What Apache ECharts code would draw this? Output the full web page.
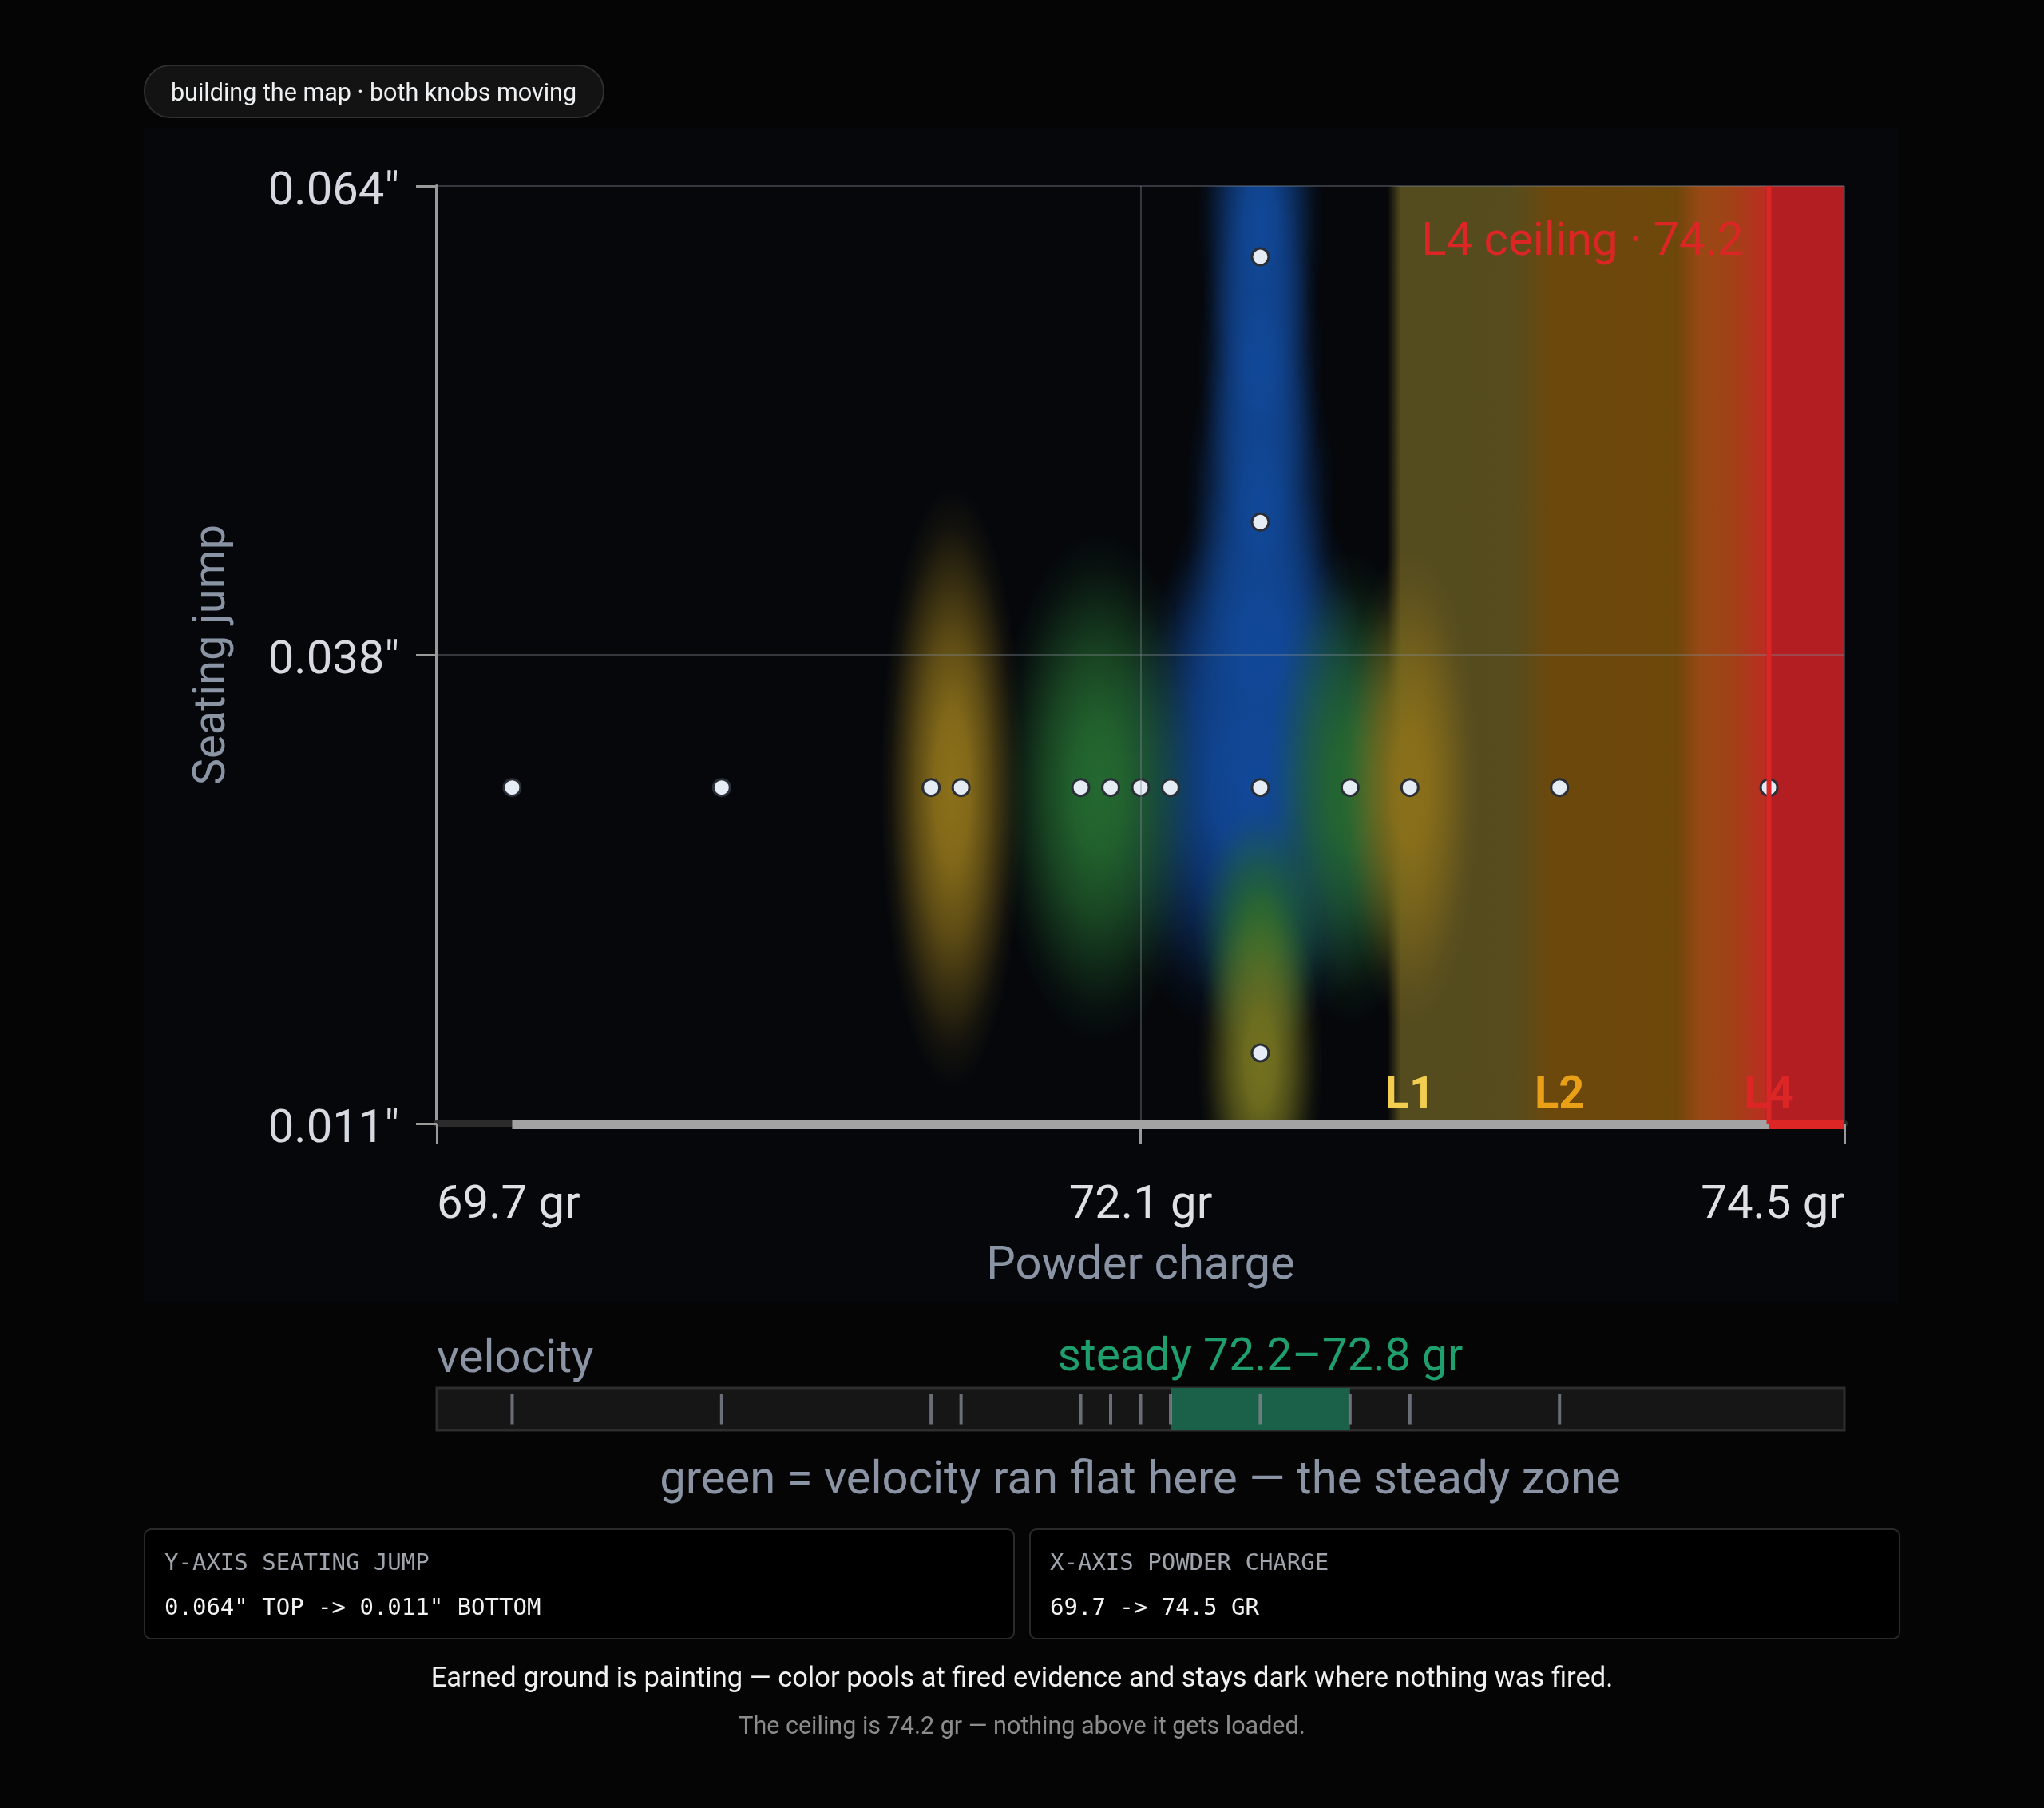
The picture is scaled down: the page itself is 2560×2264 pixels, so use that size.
<!DOCTYPE html>
<html><head><meta charset="utf-8">
<script src="https://cdn.jsdelivr.net/npm/echarts@6/dist/echarts.min.js"></script>
<style>html,body{margin:0;padding:0;background:#050505;}#c{width:2560px;height:2264px;}</style>
</head><body><div id="c"></div>
<script>
// ---------------- data ----------------
const shotCharge = [70.0, 70.7, 71.4, 71.5, 71.9, 72.0, 72.1, 72.2, 72.5, 72.8, 73.0, 73.5, 74.2, 72.5, 72.5, 72.5];
const shotJump   = [0.030, 0.030, 0.030, 0.030, 0.030, 0.030, 0.030, 0.030, 0.030, 0.030, 0.030, 0.030, 0.030, 0.060, 0.045, 0.015];
const velocityCharge = [70.0, 70.7, 71.4, 71.5, 71.9, 72.0, 72.1, 72.2, 72.5, 72.8, 73.0, 73.5];
const steadyRange = [72.2, 72.8];
const ceilingCharge = 74.2;
const levelNames  = ['L1', 'L2', 'L4'];
const levelCharge = [73.0, 73.5, 74.2];
const chargeRange = [69.748, 74.452];
const chargeTicks = [69.748, 72.1, 74.452];
const chargeTickLabels = ['69.7 gr', '72.1 gr', '74.5 gr'];
const jumpRange = [0.011, 0.064];
const jumpTicks = [0.011, 0.0375, 0.064];
const jumpTickLabels = ['0.011"', '0.038"', '0.064"'];
// colour pools where fired evidence sits (centre + reach in data units, tier)
const poolCharge = [72.47, 72.5, 72.5, 72.5, 72.5, 71.96, 72.8, 72.5, 71.47, 73.0, 72.5];
const poolJump   = [0.030, 0.062, 0.054, 0.046, 0.038, 0.030, 0.030, 0.0215, 0.030, 0.030, 0.0145];
const poolReachCharge = [0.52, 0.21, 0.21, 0.25, 0.34, 0.35, 0.28, 0.22, 0.24, 0.23, 0.21];
const poolReachJump   = [0.0145, 0.011, 0.01, 0.011, 0.01, 0.0145, 0.0135, 0.0075, 0.017, 0.0135, 0.01];
const poolTier = ['steady', 'steady', 'steady', 'steady', 'steady', 'mid', 'mid', 'mid', 'warm', 'warm', 'olive'];

// ---------------- styles ----------------
const FONT = 'Roboto, "Noto Sans", sans-serif';
const MONO = '"DejaVu Sans Mono", "Liberation Mono", monospace';
const tierRGB = { steady: [17, 72, 152], mid: [36, 104, 48], warm: [140, 112, 26], olive: [116, 114, 32] };
const levelColors = ['#f2cd50', '#e9a016', '#dc2626'];
const bandStyle = [ // [anchor level index, offset in gr, colour]
  [0, -0.075, 'rgba(84,75,30,0)'],
  [0, -0.03, 'rgb(84,75,30)'],
  [1, -0.16, 'rgb(86,76,30)'],
  [1, -0.03, 'rgb(108,72,12)'],
  [2, -0.31, 'rgb(110,71,11)'],
  [2, -0.23, 'rgb(152,72,20)'],
  [2, -0.13, 'rgb(160,66,22)'],
  [2, -0.015, 'rgb(186,46,34)'],
  [2, 0, 'rgb(178,30,34)']
];

function labelFor(v, ticks, labels) {
  let best = 0;
  for (let i = 1; i < ticks.length; i++) if (Math.abs(ticks[i] - v) < Math.abs(ticks[best] - v)) best = i;
  return labels[best];
}
function rgba(c, a) { return 'rgba(' + c[0] + ',' + c[1] + ',' + c[2] + ',' + a + ')'; }

const chart = echarts.init(document.getElementById('c'), null, { renderer: 'canvas', width: 2560, height: 2264 });

const option = {
  animation: false,
  backgroundColor: '#050505',
  textStyle: { fontFamily: FONT },
  grid: [
    { left: 547, top: 233, right: 250, bottom: 857, outerBoundsMode: 'none', containLabel: false },
    { left: 547, top: 1738, right: 250, height: 53, show: true, backgroundColor: '#161616', borderColor: '#2e2e2e', borderWidth: 3, outerBoundsMode: 'none', containLabel: false }
  ],
  xAxis: [
    {
      type: 'value', gridIndex: 0, min: chargeRange[0], max: chargeRange[1], z: 10,
      name: 'Powder charge', nameLocation: 'middle', nameGap: 150, nameMoveOverlap: false,
      nameTextStyle: { color: '#8a94a4', fontSize: 58, fontFamily: FONT },
      axisLine: { show: true, onZero: false, lineStyle: { color: '#2b2b2b', width: 8 } },
      axisTick: { show: true, customValues: chargeTicks, length: 26, lineStyle: { color: '#9a9a9a', width: 3 } },
      axisLabel: { show: true, customValues: chargeTicks, margin: 74, color: '#dde0e5', fontSize: 58, fontFamily: FONT,
        alignMinLabel: 'left', alignMaxLabel: 'right', hideOverlap: false,
        formatter: v => labelFor(v, chargeTicks, chargeTickLabels) },
      splitLine: { show: true, lineStyle: { color: 'rgba(130,136,148,0.38)', width: 2 } }
    },
    { type: 'value', gridIndex: 1, min: chargeRange[0], max: chargeRange[1], show: false }
  ],
  yAxis: [
    {
      type: 'value', gridIndex: 0, min: jumpRange[0], max: jumpRange[1], z: 10,
      name: 'Seating jump', nameLocation: 'middle', nameGap: 252, nameRotate: 90, nameMoveOverlap: false,
      nameTextStyle: { color: '#8a94a4', fontSize: 56, fontFamily: FONT },
      axisLine: { show: true, onZero: false, lineStyle: { color: '#9a9a9a', width: 4 } },
      axisTick: { show: true, customValues: jumpTicks, length: 26, lineStyle: { color: '#9a9a9a', width: 3 } },
      axisLabel: { show: true, customValues: jumpTicks, margin: 47, hideOverlap: false,
        formatter: v => '{v|' + labelFor(v, jumpTicks, jumpTickLabels) + '}',
        rich: { v: { color: '#d6dae0', fontSize: 58, fontFamily: FONT, padding: [17, 0, 0, 0] } } },
      splitLine: { show: true, lineStyle: { color: 'rgba(130,136,148,0.38)', width: 2 } }
    },
    { type: 'value', gridIndex: 1, min: 0, max: 1, show: false }
  ],
  series: [
    { // load-level bands
      type: 'custom', xAxisIndex: 0, yAxisIndex: 0, z: 1, clip: true, silent: true,
      data: [[levelCharge[0], jumpRange[1]]],
      renderItem: function (params, api) {
        const start = levelCharge[0] + bandStyle[0][1];
        const p0 = api.coord([start, jumpRange[1]]);
        const p1 = api.coord([chargeRange[1], jumpRange[0]]);
        const span = chargeRange[1] - start;
        const stops = bandStyle.map(s => ({ offset: Math.max(0, Math.min(1, (levelCharge[s[0]] + s[1] - start) / span)), color: s[2] }));
        stops.push({ offset: 1, color: 'rgb(178,30,34)' });
        return { type: 'rect', shape: { x: p0[0], y: p0[1], width: p1[0] - p0[0], height: p1[1] - p0[1] },
          style: { fill: { type: 'linear', x: 0, y: 0, x2: 1, y2: 0, colorStops: stops } } };
      }
    },
    { // heat pools
      type: 'custom', xAxisIndex: 0, yAxisIndex: 0, z: 2, clip: true, silent: true,
      data: poolCharge.map((c, i) => [c, poolJump[i], poolReachCharge[i], poolReachJump[i]]),
      encode: { x: 0, y: 1 },
      renderItem: function (params, api) {
        const i = params.dataIndex;
        const c = api.coord([api.value(0), api.value(1)]);
        const rx = api.size([api.value(2), 0])[0];
        const ry = api.size([0, api.value(3)])[1];
        const col = tierRGB[poolTier[i]];
        return {
          type: 'circle', x: c[0], y: c[1], scaleX: 1, scaleY: ry / rx,
          shape: { cx: 0, cy: 0, r: rx },
          style: { fill: { type: 'radial', x: 0.5, y: 0.5, r: 0.5, colorStops: [
            { offset: 0, color: rgba(col, 1) },
            { offset: 0.25, color: rgba(col, 0.92) },
            { offset: 0.5, color: rgba(col, 0.64) },
            { offset: 0.7, color: rgba(col, 0.34) },
            { offset: 0.86, color: rgba(col, 0.11) },
            { offset: 1, color: rgba(col, 0) }
          ] } }
        };
      }
    },
    { // fired shots
      type: 'scatter', xAxisIndex: 0, yAxisIndex: 0, z: 5, silent: true,
      symbol: 'circle', symbolSize: 21,
      itemStyle: { color: '#e6ecf3', borderColor: '#2a2f37', borderWidth: 3, opacity: 1 },
      data: shotCharge.map((c, i) => [c, shotJump[i]])
    },
    { // bottom range bar + ceiling + level labels
      type: 'custom', xAxisIndex: 0, yAxisIndex: 0, z: 12, clip: false, silent: true,
      data: [[ceilingCharge, jumpRange[0]]],
      renderItem: function (params, api) {
        const firedMin = Math.min.apply(null, shotCharge);
        const a = api.coord([firedMin, jumpRange[0]]);
        const b = api.coord([ceilingCharge, jumpRange[0]]);
        const e = api.coord([chargeRange[1], jumpRange[0]]);
        const t = api.coord([ceilingCharge, jumpRange[1]]);
        const children = [
          { type: 'rect', shape: { x: a[0], y: a[1] - 5, width: b[0] - a[0], height: 12 }, style: { fill: '#a3a3a3' } },
          { type: 'rect', shape: { x: b[0], y: b[1] - 5, width: e[0] - b[0], height: 12 }, style: { fill: '#dc2626' } },
          { type: 'rect', shape: { x: t[0] - 3, y: t[1], width: 6, height: b[1] - t[1] }, style: { fill: '#dc2626' } },
          { type: 'text', x: t[0] - 32, y: t[1] + 71, style: { text: 'L4 ceiling · ' + ceilingCharge.toFixed(1), fill: '#dc2626',
            font: '58px ' + FONT, align: 'right', verticalAlign: 'middle' } }
        ];
        levelNames.forEach((n, i) => {
          const p = api.coord([levelCharge[i], jumpRange[0]]);
          children.push({ type: 'text', x: p[0], y: p[1] - 34, style: { text: n, fill: levelColors[i],
            font: 'bold 56px ' + FONT, align: 'center', verticalAlign: 'middle' } });
        });
        return { type: 'group', children: children };
      }
    },
    { // steady zone on the velocity strip
      type: 'custom', xAxisIndex: 1, yAxisIndex: 1, z: 1, clip: false, silent: true,
      data: [[steadyRange[0], steadyRange[1]]],
      renderItem: function (params, api) {
        const p0 = api.coord([api.value(0), 1]);
        const p1 = api.coord([api.value(1), 0]);
        return { type: 'group', children: [
          { type: 'rect', shape: { x: p0[0], y: p0[1], width: p1[0] - p0[0], height: p1[1] - p0[1] }, style: { fill: '#1b6048' } },
          { type: 'text', x: (p0[0] + p1[0]) / 2, y: p0[1] - 36, style: {
            text: 'steady ' + steadyRange[0].toFixed(1) + '–' + steadyRange[1].toFixed(1) + ' gr',
            fill: '#1f9e6e', font: '57px ' + FONT, align: 'center', verticalAlign: 'middle' } }
        ] };
      }
    },
    { // velocity ticks
      type: 'scatter', xAxisIndex: 1, yAxisIndex: 1, z: 3, silent: true,
      symbol: 'rect', symbolSize: [4, 38],
      itemStyle: { color: '#80858f' },
      data: velocityCharge.map(c => [c, 0.5])
    }
  ],
  graphic: [
    { type: 'rect', z: -10, shape: { x: 180, y: 160, width: 2198, height: 1472 }, style: { fill: '#05070b' } },
    { type: 'rect', z: -5, shape: { x: 181, y: 82, width: 575, height: 65, r: 32 }, style: { fill: '#131313', stroke: '#2f2f2f', lineWidth: 2 } },
    { type: 'text', z: -4, x: 468, y: 118, style: { text: 'building the map · both knobs moving', fill: '#eef0f2', font: '30.5px ' + FONT, align: 'center', verticalAlign: 'middle' } },
    { type: 'text', x: 547, y: 1703, style: { text: 'velocity', fill: '#8a94a4', font: '58px ' + FONT, align: 'left', verticalAlign: 'middle' } },
    { type: 'text', x: 1428, y: 1855, style: { text: 'green = velocity ran flat here — the steady zone', fill: '#8a94a4', font: '58px ' + FONT, align: 'center', verticalAlign: 'middle' } },
    { type: 'rect', shape: { x: 181, y: 1915, width: 1089, height: 137, r: 8 }, style: { fill: '#000', stroke: '#2a2a2a', lineWidth: 2 } },
    { type: 'rect', shape: { x: 1290, y: 1915, width: 1089, height: 137, r: 8 }, style: { fill: '#000', stroke: '#2a2a2a', lineWidth: 2 } },
    { type: 'text', x: 206, y: 1958, style: { text: 'Y-AXIS SEATING JUMP', fill: '#a0a5ad', font: '29px ' + MONO, align: 'left', verticalAlign: 'middle' } },
    { type: 'text', x: 206, y: 2014, style: { text: jumpTickLabels[2] + ' TOP -> ' + jumpTickLabels[0] + ' BOTTOM', fill: '#f2f2f2', font: '29px ' + MONO, align: 'left', verticalAlign: 'middle' } },
    { type: 'text', x: 1315, y: 1958, style: { text: 'X-AXIS POWDER CHARGE', fill: '#a0a5ad', font: '29px ' + MONO, align: 'left', verticalAlign: 'middle' } },
    { type: 'text', x: 1315, y: 2014, style: { text: chargeTickLabels[0].replace(' gr', '') + ' -> ' + chargeTickLabels[2].replace(' gr', '') + ' GR', fill: '#f2f2f2', font: '29px ' + MONO, align: 'left', verticalAlign: 'middle' } },
    { type: 'text', x: 1280, y: 2103, style: { text: 'Earned ground is painting — color pools at fired evidence and stays dark where nothing was fired.', fill: '#f0f0f0', font: '34.5px ' + FONT, align: 'center', verticalAlign: 'middle' } },
    { type: 'text', x: 1280, y: 2163, style: { text: 'The ceiling is ' + ceilingCharge.toFixed(1) + ' gr — nothing above it gets loaded.', fill: '#8c8c8c', font: '30.5px ' + FONT, align: 'center', verticalAlign: 'middle' } }
  ]
};
chart.setOption(option);
</script></body></html>
